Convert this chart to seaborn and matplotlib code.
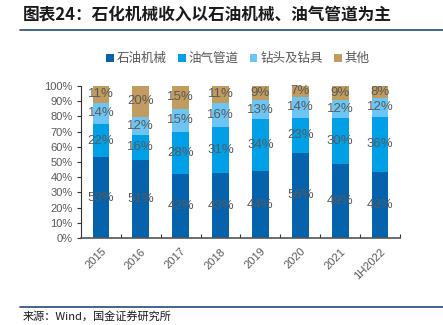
import matplotlib
matplotlib.use("Agg")
import matplotlib.pyplot as plt
import seaborn as sns
import pandas as pd
import numpy as np
from matplotlib.patches import Patch

years = ["2015", "2016", "2017", "2018", "2019", "2020", "2021", "1H2022"]
series_names = ["石油机械", "油气管道", "钻头及钻具", "其他"]
oil_machinery = [53, 51, 42, 43, 44, 56, 49, 43]
pipeline = [22, 16, 28, 31, 34, 23, 30, 36]
drill = [14, 12, 15, 16, 13, 14, 12, 12]
other = [11, 20, 15, 11, 9, 7, 9, 8]
colors = ["#0563AE", "#00A0E9", "#6CC5F4", "#C19C5E"]
yticks = [0, 10, 20, 30, 40, 50, 60, 70, 80, 90, 100]

sns.set_theme(style="white")
plt.rcParams['font.family'] = ['Liberation Sans', 'Noto Sans CJK SC', 'DejaVu Sans']

fig = plt.figure(figsize=(4.43, 3.25), dpi=100)
ax = fig.add_axes([81/443, 1-238/325, 319/443, 152/325])

vals = np.array([oil_machinery, pipeline, drill, other], dtype=float)
totals = vals.sum(axis=0)
shares = vals / totals * 100
cum = np.cumsum(shares, axis=0)

for i in range(3, -1, -1):
    df = pd.DataFrame({"year": years, "v": cum[i]})
    sns.barplot(data=df, x="year", y="v", color=colors[i], width=0.42,
                saturation=1, ax=ax, edgecolor="none")

for i in range(4):
    for j in range(len(years)):
        bottom = cum[i][j] - shares[i][j]
        ax.text(j, bottom + shares[i][j] / 2, f"{int(vals[i][j])}%", ha="center", va="center",
                fontsize=9.5, color="#595959", family=['Liberation Sans', 'DejaVu Sans'])

ax.set_ylim(0, 100)
ax.set_xlim(-0.5, len(years) - 0.5)
ax.set_yticks(yticks)
ax.set_yticklabels([f"{t}%" for t in yticks], fontsize=8, color="#595959")
ax.set_xticks(range(len(years)))
ax.set_xticklabels(years, rotation=45, ha="right", rotation_mode="anchor", fontsize=8, color="#595959")
ax.tick_params(axis="x", length=0, pad=6)
ax.tick_params(axis="y", length=3, width=0.8, color="#333333", direction="out", left=True, pad=3)
ax.set_xticks(np.arange(-0.5, len(years), 1.0)[1:], minor=True)
ax.tick_params(axis="x", which="minor", length=3, width=0.8, color="#333333", direction="in", bottom=True)
for s in ["top", "right"]:
    ax.spines[s].set_visible(False)
ax.spines["left"].set_color("#333333")
ax.spines["bottom"].set_color("#555555")
ax.spines["left"].set_linewidth(0.8)
ax.spines["bottom"].set_linewidth(1.2)
ax.set_xlabel("")
ax.set_ylabel("")

leg_handles = [Patch(facecolor=colors[i], edgecolor="none") for i in range(4)]
fig.legend(leg_handles, series_names, loc="center", bbox_to_anchor=(238/443, 1-59/325), ncol=4,
           frameon=False, fontsize=9, handlelength=0.6, handleheight=0.6, handletextpad=0.25,
           columnspacing=0.9, labelcolor="#595959")

fig.text(23/443, 1-15/325, "图表24：石化机械收入以石油机械、油气管道为主", fontsize=12,
         fontweight="bold", style="italic", color="#1a1a1a", va="center", ha="left",
         family=['Noto Sans CJK SC', 'DejaVu Sans'])
fig.add_artist(plt.Line2D([20/443, 1], [1-29.5/325, 1-29.5/325], color="#1F4E79", lw=1.2))
fig.add_artist(plt.Line2D([20/443, 1], [1-306.5/325, 1-306.5/325], color="#1F4E79", lw=1.2))
fig.text(23/443, 1-316/325, "来源：Wind，国金证券研究所", fontsize=8, color="#1a1a1a",
         va="center", ha="left", family=['Noto Sans CJK SC', 'DejaVu Sans'])

fig.savefig("out.png", dpi=100)
